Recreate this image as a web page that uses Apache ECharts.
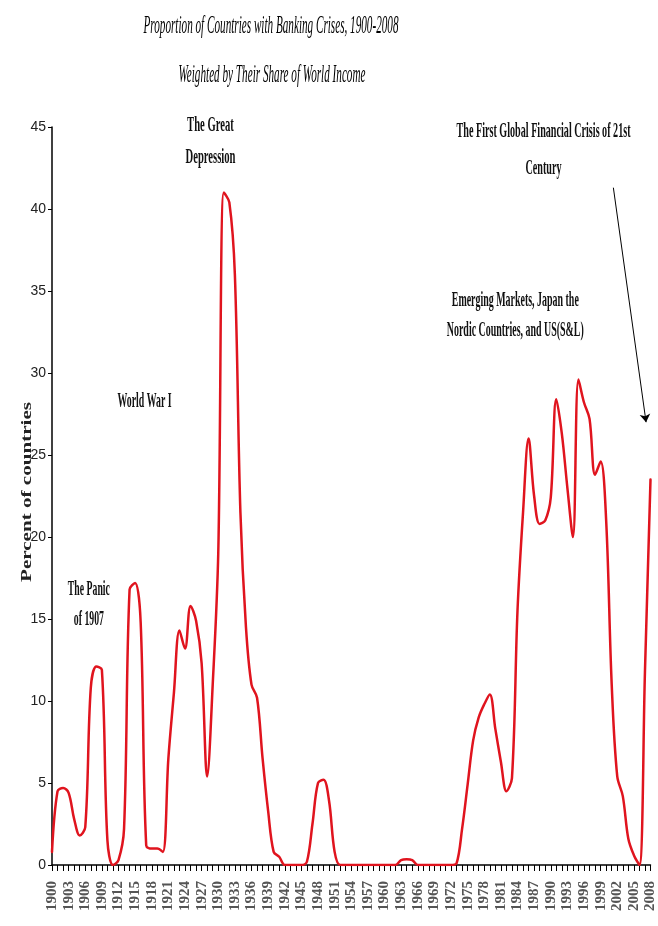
<!DOCTYPE html>
<html><head><meta charset="utf-8">
<script src="https://cdn.jsdelivr.net/npm/echarts@6/dist/echarts.min.js"></script>
<style>html,body{margin:0;padding:0;background:#fff}#c{width:658px;height:926px}</style>
</head><body><div id="c"></div>
<script>
// ---- data ----
const firstYear = 1900, lastYear = 2008;
const years = [];
for (let y = firstYear; y <= lastYear; y++) years.push(y);

// Percent of countries in banking crisis (weighted by share of world income), 1900..2008
const crisisShare = [
  0.8, 4.5, 4.7, 4.4, 2.8, 1.8, 2.3, 10.8, 12.1, 11.9,      // 1900-1909
  1.5, 0.0, 0.3, 2.2, 16.8, 17.2, 14.8, 1.2, 1.0, 1.0,      // 1910-1919
  0.8, 6.5, 10.5, 14.3, 13.2, 15.8, 14.9, 12.3, 5.4, 11.0,  // 1920-1929
  19.0, 41.0, 40.4, 36.0, 21.5, 14.5, 11.0, 10.2, 6.5, 3.3, // 1930-1939
  0.8, 0.5, 0.0, 0.0, 0.0, 0.0, 0.2, 2.5, 5.0, 5.2,         // 1940-1949
  3.9, 0.8, 0, 0, 0, 0, 0, 0, 0, 0,                         // 1950-1959
  0, 0, 0, 0.3, 0.35, 0.3, 0, 0, 0, 0,                      // 1960-1969
  0, 0, 0, 0.1, 2.2, 4.9, 7.6, 9.0, 9.8, 10.4,              // 1970-1979
  8.3, 6.3, 4.5, 5.3, 15.5, 21.5, 26.0, 22.5, 20.8, 21.0,   // 1980-1989
  22.4, 28.4, 26.3, 23.0, 20.0, 29.6, 28.2, 27.2, 23.8, 24.6, // 1990-1999
  21.0, 11.0, 5.4, 4.2, 1.6, 0.6, 0.0, 11.8, 23.5           // 2000-2008
];

const titleLines = ['Proportion of Countries with Banking Crises, 1900-2008', 'Weighted by Their Share of World Income'];
const yAxisTitle = 'Percent of countries';
const notes = [
  ['The Panic', 'of 1907'],
  ['World War I'],
  ['The Great', 'Depression'],
  ['The First Global Financial Crisis of 21st', 'Century'],
  ['Emerging Markets, Japan the', 'Nordic Countries, and US(S&L)']
];
// anchors of the notes in data space [year, percent]
const noteAnchors = [[1906.65, 15.9], [1916.7, 28.3], [1928.6, 44.1], [1988.7, 43.6], [1983.6, 33.5]];
const arrowFrom = [2001.3, 41.3], arrowTo = [2007.2, 27.0];

// ---- layout / style (not data) ----
const noteLayout = [
  {w: 42, lh: 30}, {w: 54, lh: 30}, {w: 50, lh: 32}, {w: 174, lh: 37}, {w: 137, lh: 30}
];
const noteFont = "bold 22px 'Liberation Serif'";
const titleFont = "italic 26px 'Liberation Serif'";

const chart = echarts.init(document.getElementById('c'), null, {renderer: 'canvas'});
const data = years.map((y, i) => [y, crisisShare[i]]);

chart.setOption({
  animation: false,
  backgroundColor: '#fff',
  grid: {left: 52, right: 5, top: 127, bottom: 61},
  xAxis: {
    type: 'value', min: firstYear, max: lastYear, interval: 3,
    axisLine: {show: true, onZero: false, lineStyle: {color: '#000', width: 1.5}},
    axisTick: {show: true, length: 6, lineStyle: {color: '#000', width: 1}},
    minorTick: {show: true, splitNumber: 3, length: 6, lineStyle: {color: '#000', width: 1}},
    splitLine: {show: false}, minorSplitLine: {show: false},
    axisLabel: {rotate: 90, margin: 16, formatter: v => String(v),
      fontFamily: 'Liberation Serif', fontWeight: 'bold', fontSize: 15, color: '#555',
      showMinLabel: true, showMaxLabel: true}
  },
  yAxis: {
    type: 'value', min: 0, max: 45, interval: 5,
    axisLine: {show: true, lineStyle: {color: '#000', width: 1.5}},
    axisTick: {show: true, length: 4, lineStyle: {color: '#000', width: 1}},
    splitLine: {show: false},
    axisLabel: {margin: 6, fontFamily: 'Liberation Sans', fontSize: 14, color: '#222'}
  },
  series: [{
    type: 'line', data: data, smooth: 0.35, symbol: 'none', showSymbol: false,
    lineStyle: {color: '#e0141e', width: 2.5, cap: 'round', join: 'round'},
    markLine: {
      silent: true, symbol: ['none', 'arrow'], symbolSize: 8,
      label: {show: false},
      lineStyle: {color: '#000', width: 1, type: 'solid'},
      data: [[{coord: arrowFrom}, {coord: arrowTo}]]
    }
  }]
});

// text helpers (condensed text via horizontal scaling)
const ctx = document.createElement('canvas').getContext('2d');
function measure(font, lines) {
  ctx.font = font;
  return Math.max(...lines.map(l => ctx.measureText(l).width));
}
const graphics = [];
notes.forEach((lines, i) => {
  const p = chart.convertToPixel({gridIndex: 0}, noteAnchors[i]);
  const L = noteLayout[i];
  const s = L.w / measure(noteFont, lines);
  graphics.push({
    type: 'text', x: p[0], y: p[1], scaleX: s, scaleY: 1, silent: true,
    style: {text: lines.join('\n'), font: noteFont, fill: '#111', lineHeight: L.lh,
      textAlign: 'center', textVerticalAlign: 'middle'}
  });
});
const titlePos = [[271, 26, 255], [272, 75, 187]];
titleLines.forEach((t, i) => {
  const s = titlePos[i][2] / measure(titleFont, [t]);
  graphics.push({
    type: 'text', x: titlePos[i][0], y: titlePos[i][1], scaleX: s, scaleY: 1, silent: true,
    style: {text: t, font: titleFont, fill: '#000', textAlign: 'center', textVerticalAlign: 'middle'}
  });
});
const yFont = "bold 14px 'Liberation Serif'";
graphics.push({
  type: 'text', x: 27, y: 492, rotation: Math.PI / 2, scaleX: 180 / measure(yFont, [yAxisTitle]), scaleY: 1, silent: true,
  style: {text: yAxisTitle, font: yFont, fill: '#222', textAlign: 'center', textVerticalAlign: 'middle'}
});
chart.setOption({graphic: graphics});
</script>
</body></html>
